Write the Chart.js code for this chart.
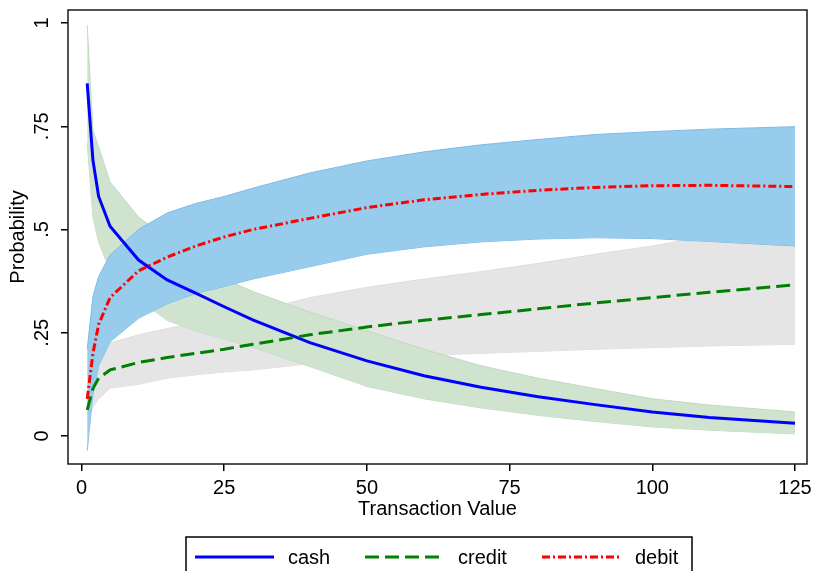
<!DOCTYPE html>
<html>
<head>
<meta charset="utf-8">
<script src="https://cdn.jsdelivr.net/npm/chart.js@4.4.1/dist/chart.umd.min.js"></script>
<style>
  html, body { margin: 0; padding: 0; background: #fff; }
  canvas { display: block; }
</style>
</head>
<body>
<canvas id="chart" width="814" height="571"></canvas>
<script>
// transaction values where the predictions were evaluated
const xValues = [1, 2, 3, 5, 10, 15, 20, 25, 30, 40, 50, 60, 70, 80, 90, 100, 110, 125];

// predicted probabilities
const cash   = [.854, .668, .58, .508, .426, .378, .346, .313, .281, .226, .182, .146, .118, .095, .076, .058, .045, .031];
const credit = [.063, .115, .14, .16, .178, .19, .2, .21, .222, .245, .264, .28, .294, .308, .322, .335, .348, .366];
const debit  = [.09, .2, .27, .335, .40, .433, .46, .482, .50, .527, .553, .572, .585, .595, .602, .606, .607, .604];

// confidence bands
const cashHi   = [.995, .74, .70, .615, .53, .48, .42, .38, .35, .30, .255, .21, .17, .14, .115, .09, .075, .058];
const cashLo   = [.71, .53, .47, .40, .33, .28, .255, .235, .215, .168, .12, .09, .068, .05, .035, .022, .014, .005];
const creditHi = [.085, .15, .19, .225, .245, .26, .275, .29, .30, .335, .36, .38, .398, .418, .44, .46, .485, .51];
const creditLo = [.04, .07, .09, .116, .125, .14, .148, .155, .16, .175, .188, .195, .2, .205, .21, .214, .218, .222];
const debitHi  = [.21, .337, .386, .438, .50, .54, .563, .58, .60, .637, .666, .688, .705, .718, .73, .737, .743, .749];
const debitLo  = [-.035, .10, .17, .228, .285, .32, .345, .362, .38, .41, .44, .458, .47, .477, .48, .478, .471, .46];

const xTicks = [0, 25, 50, 75, 100, 125];
const yTicks = [0, .25, .5, .75, 1];
const yTickLabels = ['0', '.25', '.5', '.75', '1'];

const legendNames = ['cash', 'credit', 'debit'];

const FONT = '"Liberation Sans", Arial, sans-serif';

const pts = (ys) => xValues.map((x, i) => ({ x: x, y: ys[i] }));

const band = (hi, lo, fillColor, edgeColor, order) => [
  { data: pts(hi), fill: '+1', backgroundColor: fillColor, borderColor: edgeColor, borderWidth: 1, order: order },
  { data: pts(lo), fill: false, borderColor: edgeColor, borderWidth: 1, order: order }
];

const lines = [
  { label: 'cash', data: pts(cash), borderColor: '#0000ff', borderWidth: 3, fill: false, order: 2 },
  { label: 'credit', data: pts(credit), borderColor: '#008000', borderWidth: 3, borderDash: [14, 6], fill: false, order: 1 },
  { label: 'debit', data: pts(debit), borderColor: '#ff0000', borderWidth: 3, borderDash: [8, 3, 2, 3], fill: false, order: 0 }
];

const datasets = [
  ...lines,
  ...band(debitHi, debitLo, 'rgb(152,204,236)', 'rgb(125,186,230)', 3),
  ...band(cashHi, cashLo, 'rgb(207,227,207)', 'rgb(192,218,192)', 4),
  ...band(creditHi, creditLo, 'rgb(229,229,229)', 'rgb(222,222,222)', 5)
];

const framePlugin = {
  id: 'frame',
  afterDatasetsDraw(chart) {
    const a = chart.chartArea, ctx = chart.ctx;
    ctx.save();
    ctx.strokeStyle = '#1a1a1a';
    ctx.lineWidth = 1.5;
    ctx.strokeRect(a.left, a.top, a.right - a.left, a.bottom - a.top);
    ctx.restore();
  }
};

const legendPlugin = {
  id: 'boxLegend',
  afterDraw(chart) {
    const ctx = chart.ctx;
    ctx.save();
    ctx.strokeStyle = '#000';
    ctx.lineWidth = 1.5;
    ctx.strokeRect(186, 537, 506, 40);
    const startX = [195, 365, 542];
    const y = 557;
    legendNames.forEach((name, i) => {
      const ds = lines[i];
      ctx.beginPath();
      ctx.setLineDash(ds.borderDash || []);
      ctx.strokeStyle = ds.borderColor;
      ctx.lineWidth = ds.borderWidth;
      ctx.moveTo(startX[i], y);
      ctx.lineTo(startX[i] + 79, y);
      ctx.stroke();
      ctx.setLineDash([]);
      ctx.fillStyle = '#000';
      ctx.font = '20px ' + FONT;
      ctx.textBaseline = 'middle';
      ctx.textAlign = 'left';
      ctx.fillText(name, startX[i] + 93, y + 1);
    });
    ctx.restore();
  }
};

new Chart(document.getElementById('chart'), {
  type: 'line',
  data: { datasets: datasets },
  plugins: [framePlugin, legendPlugin],
  options: {
    responsive: false,
    animation: false,
    layout: { padding: { top: 10, right: 7, left: 0, bottom: 49 } },
    elements: { point: { radius: 0 }, line: { tension: 0 } },
    plugins: { legend: { display: false }, tooltip: { enabled: false } },
    scales: {
      x: {
        type: 'linear',
        min: -2.365,
        max: 127.1,
        afterBuildTicks: (s) => { s.ticks = xTicks.map(v => ({ value: v })); },
        afterFit: (s) => { s.height = 58; s.paddingLeft = 0; s.paddingRight = 0; },
        border: { display: false },
        grid: { drawOnChartArea: false, drawTicks: true, tickLength: 7, color: '#000', lineWidth: 1.5 },
        ticks: { color: '#000', padding: 5, maxRotation: 0, font: { family: FONT, size: 20 } },
        title: { display: true, text: 'Transaction Value', color: '#000', padding: { top: 0, bottom: 1 }, font: { family: FONT, size: 20 } }
      },
      y: {
        type: 'linear',
        min: -0.0678,
        max: 1.0315,
        afterBuildTicks: (s) => { s.ticks = yTicks.map(v => ({ value: v })); },
        afterFit: (s) => { s.width = 68; s.paddingTop = 0; s.paddingBottom = 0; },
        border: { display: false },
        grid: { drawOnChartArea: false, drawTicks: true, tickLength: 7, color: '#000', lineWidth: 1.5 },
        ticks: {
          color: '#000',
          padding: 5,
          minRotation: 90,
          maxRotation: 90,
          crossAlign: 'center',
          font: { family: FONT, size: 20 },
          callback: (v) => { const i = yTicks.indexOf(v); return i >= 0 ? yTickLabels[i] : ''; }
        },
        title: { display: true, text: 'Probability', color: '#000', padding: { top: 6, bottom: 0 }, font: { family: FONT, size: 20 } }
      }
    }
  }
});
</script>
</body>
</html>
